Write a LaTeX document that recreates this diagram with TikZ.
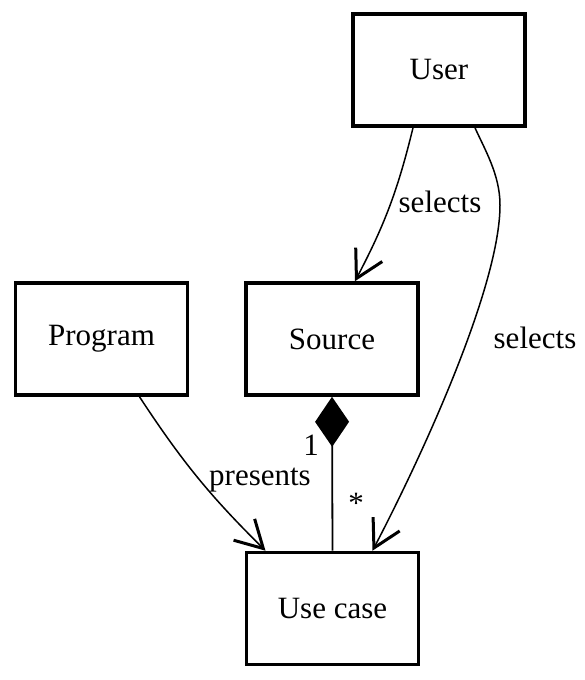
\documentclass[tikz,border=0pt]{standalone}
\usepackage{fontspec}
\setmainfont{Liberation Serif}
\newfontfamily\umlfont{Liberation Serif}
\usetikzlibrary{arrows.meta}
\begin{document}
\begin{tikzpicture}[x=1pt,y=-1pt,
  txt/.style={font=\umlfont\fontsize{31}{36}\selectfont},
  cls/.style={txt, draw, line width=3.6pt, minimum width=172pt,
    minimum height=112pt, inner sep=0pt},
  assoc/.style={line width=1.5pt,
    -{Straight Barb[length=27pt,width=30pt,line width=3pt]}},
  compo/.style={line width=1.8pt, {Diamond[length=50pt,width=34pt]}-},
  lbl/.style={txt, inner sep=0pt, anchor=base}]
\useasboundingbox (0,0) rectangle (584,680);

% classes
\node[cls] (user)    at (439,70)    {User};
\node[cls] (source)  at (332,339)   {Source};
\node[cls] (program) at (101.5,339) {Program};
\node[cls] (usecase) at (332.5,608.5) {Use case};

% associations
\draw[assoc] ([xshift=-26pt]user.south) to[bend left=7] ([xshift=23pt]source.north);
\coordinate (turn) at (500,205);
\draw[assoc] ([xshift=36pt]user.south) .. controls (485,150) and (500,175) .. (turn)
  .. controls (500,285) and (425,450) .. ([xshift=40pt]usecase.north);
\draw[assoc] ([xshift=38pt]program.south) to[bend right=6] ([xshift=-67pt]usecase.north);

% composition
\draw[compo] (source.south) -- (usecase.north);

% labels
\node[lbl] (selA)  at (440,212) {selects};
\node[lbl] (selB)  at (535,348) {selects};
\node[lbl] (pres)  at (260,485) {presents};
\node[lbl] (one)   at (311,455) {1};
\node[lbl] (many)  at (356,513) {*};
\end{tikzpicture}
\end{document}
